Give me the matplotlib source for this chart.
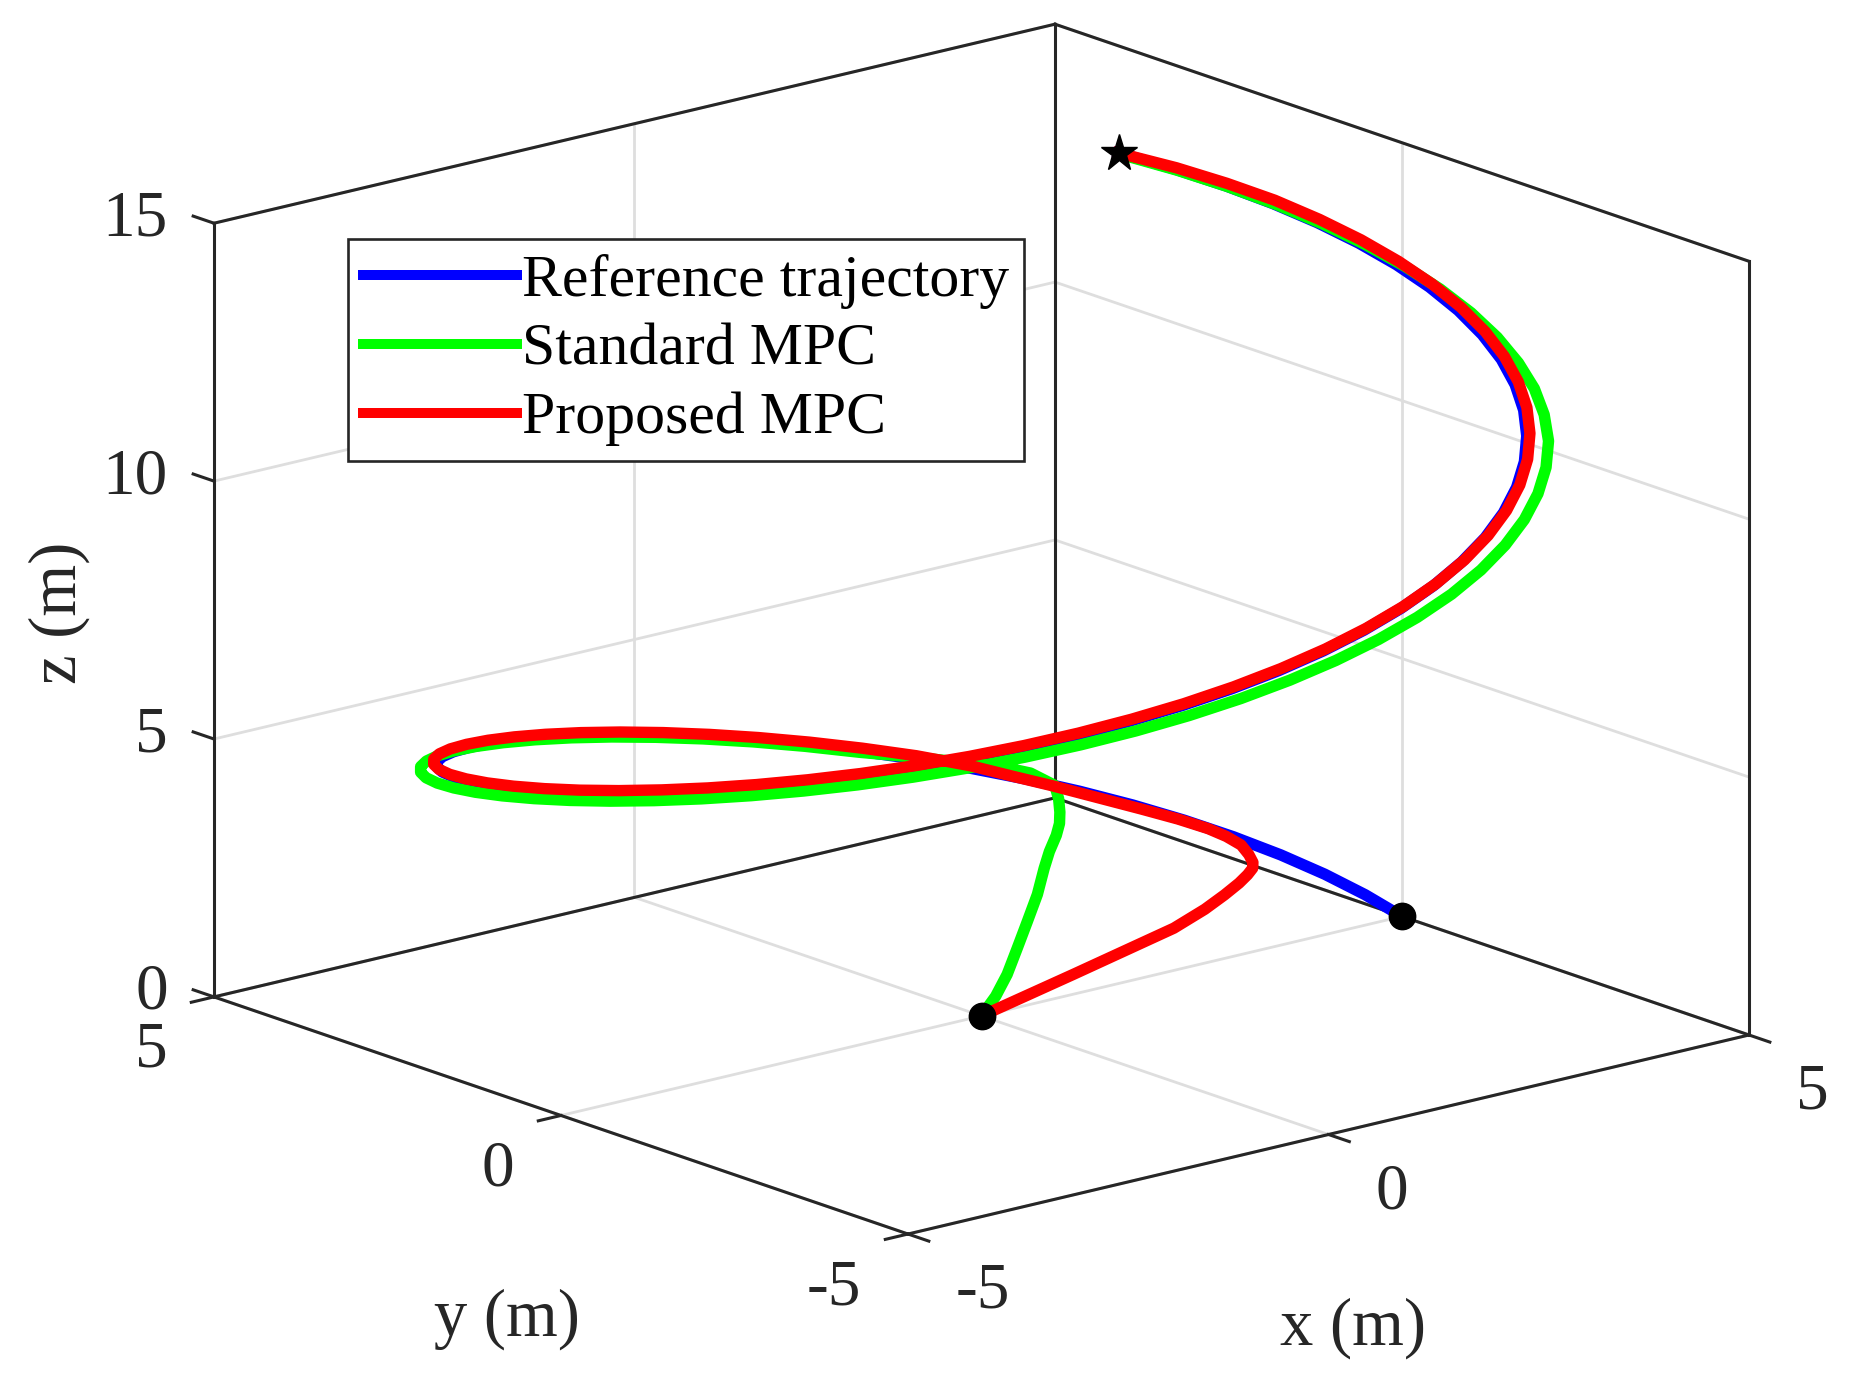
import matplotlib
matplotlib.use("Agg")
import matplotlib.pyplot as plt
from mpl_toolkits.mplot3d import proj3d

plt.rcParams['font.family'] = ['Liberation Serif', 'DejaVu Serif']

# reference helix
ref_x = [5.000, 4.975, 4.901, 4.777, 4.605, 4.388, 4.127, 3.824, 3.484, 3.108,
         2.702, 2.268, 1.812, 1.338, 0.850, 0.354, -0.146, -0.644, -1.136, -1.617,
         -2.081, -2.524, -2.943, -3.332, -3.687, -4.006, -4.285, -4.521, -4.711, -4.855,
         -4.950, -4.996, -4.991, -4.938, -4.834, -4.683, -4.484, -4.241, -3.955, -3.630,
         -3.268, -2.874, -2.452, -2.004, -1.537, -1.054, -0.561, -0.062, 0.438, 0.933,
         1.419, 1.890, 2.343, 2.772, 3.174, 3.544, 3.878, 4.174, 4.428, 4.638,
         4.801, 4.917, 4.983, 5.000, 4.966, 4.883, 4.751, 4.572, 4.347, 4.050]
ref_y = [0.000, 0.499, 0.993, 1.478, 1.947, 2.397, 2.823, 3.221, 3.587, 3.917,
         4.207, 4.456, 4.660, 4.818, 4.927, 4.988, 4.998, 4.959, 4.869, 4.732,
         4.546, 4.316, 4.042, 3.729, 3.378, 2.993, 2.578, 2.137, 1.675, 1.196,
         0.706, 0.208, -0.292, -0.789, -1.278, -1.754, -2.213, -2.649, -3.060, -3.439,
         -3.784, -4.092, -4.358, -4.581, -4.758, -4.888, -4.969, -5.000, -4.981, -4.913,
         -4.795, -4.629, -4.418, -4.162, -3.864, -3.528, -3.157, -2.754, -2.323, -1.870,
         -1.397, -0.911, -0.416, 0.084, 0.583, 1.076, 1.558, 2.024, 2.471, 2.933]
ref_z = [0.0, 0.2, 0.4, 0.6, 0.8, 1.0, 1.2, 1.4, 1.6, 1.8,
         2.0, 2.2, 2.4, 2.6, 2.8, 3.0, 3.2, 3.4, 3.6, 3.8,
         4.0, 4.2, 4.4, 4.6, 4.8, 5.0, 5.2, 5.4, 5.6, 5.8,
         6.0, 6.2, 6.4, 6.6, 6.8, 7.0, 7.2, 7.4, 7.6, 7.8,
         8.0, 8.2, 8.4, 8.6, 8.8, 9.0, 9.2, 9.4, 9.6, 9.8,
         10.0, 10.2, 10.4, 10.6, 10.8, 11.0, 11.2, 11.4, 11.6, 11.8,
         12.0, 12.2, 12.4, 12.6, 12.8, 13.0, 13.2, 13.4, 13.6, 13.82]

# standard MPC (green)
std_x = [0.00, 0.40, 0.80, 1.25, 1.70, 2.15, 2.56, 2.87, 3.20, 3.37, 3.49, 3.64, 3.76, 3.62, 3.40,
         2.783, 2.336, 1.866, 1.378, 0.876, 0.364, -0.150, -0.663, -1.170, -1.665,
         -2.143, -2.600, -3.031, -3.431, -3.798, -4.126, -4.413, -4.656, -4.852, -5.001,
         -5.099, -5.145, -5.141, -5.086, -4.979, -4.823, -4.619, -4.368, -4.074, -3.738,
         -3.366, -2.963, -2.530, -2.070, -1.589, -1.091, -0.581, -0.064, 0.454, 0.969,
         1.475, 1.966, 2.436, 2.883, 3.300, 3.685, 4.033, 4.332, 4.587, 4.791,
         4.945, 5.049, 5.102, 5.104, 5.055, 4.956, 4.808, 4.618, 4.382, 4.066]
std_y = [0.00, 0.28, 0.60, 1.00, 1.40, 1.80, 2.20, 2.50, 2.80, 2.96, 3.10, 3.30, 3.50, 3.68, 3.87,
         4.334, 4.590, 4.800, 4.963, 5.075, 5.137, 5.148, 5.107, 5.015, 4.873,
         4.683, 4.445, 4.164, 3.840, 3.479, 3.082, 2.655, 2.201, 1.725, 1.232,
         0.727, 0.214, -0.301, -0.812, -1.316, -1.807, -2.279, -2.728, -3.151, -3.542,
         -3.898, -4.218, -4.497, -4.732, -4.920, -5.059, -5.147, -5.184, -5.170, -5.104,
         -4.986, -4.814, -4.594, -4.328, -4.019, -3.669, -3.283, -2.858, -2.407, -1.931,
         -1.439, -0.936, -0.425, 0.086, 0.593, 1.092, 1.576, 2.044, 2.490, 2.944]
std_z = [0.00, 0.10, 0.22, 0.37, 0.53, 0.70, 0.86, 0.93, 0.98, 1.07, 1.18, 1.29, 1.41, 1.62, 1.75,
         1.95, 2.10, 2.30, 2.50, 2.70, 2.90, 3.10, 3.30, 3.50, 3.70,
         3.90, 4.10, 4.30, 4.50, 4.70, 4.90, 5.10, 5.30, 5.50, 5.70,
         5.90, 6.10, 6.30, 6.50, 6.70, 6.90, 7.10, 7.30, 7.50, 7.70,
         7.90, 8.10, 8.30, 8.50, 8.70, 8.90, 9.10, 9.30, 9.50, 9.70,
         9.90, 10.10, 10.30, 10.50, 10.70, 10.90, 11.10, 11.30, 11.50, 11.70,
         11.91, 12.115, 12.32, 12.525, 12.73, 12.94, 13.15, 13.355, 13.56, 13.79]

# proposed MPC (red)
prop_x = [0.00, 1.26, 2.70, 3.20, 3.55, 3.83, 4.03, 4.19, 4.30, 4.40, 4.49, 4.52, 4.51, 4.40,
          4.21, 3.68, 3.43, 3.127,
          2.718, 2.282, 1.823, 1.346, 0.855, 0.356, -0.147, -0.648, -1.143, -1.626,
          -2.093, -2.539, -2.960, -3.351, -3.709, -4.030, -4.310, -4.548, -4.739, -4.884,
          -4.980, -5.025, -5.021, -4.967, -4.863, -4.711, -4.511, -4.266, -3.979, -3.651,
          -3.288, -2.891, -2.466, -2.016, -1.546, -1.060, -0.564, -0.062, 0.440, 0.938,
          1.427, 1.901, 2.357, 2.789, 3.193, 3.565, 3.901, 4.199, 4.454, 4.665,
          4.830, 4.946, 5.012, 5.029, 4.996, 4.912, 4.780, 4.595, 4.364, 4.050]
prop_y = [0.00, 0.20, 0.50, 0.66, 0.80, 0.93, 1.05, 1.17, 1.30, 1.48, 1.70, 1.95, 2.20, 2.50,
          2.80, 3.45, 3.70, 3.940,
          4.233, 4.483, 4.688, 4.847, 4.957, 5.017, 5.028, 4.988, 4.898, 4.760,
          4.574, 4.342, 4.067, 3.751, 3.398, 3.010, 2.593, 2.150, 1.685, 1.203,
          0.710, 0.209, -0.294, -0.793, -1.285, -1.765, -2.226, -2.665, -3.078, -3.460,
          -3.807, -4.116, -4.384, -4.608, -4.787, -4.917, -4.998, -5.030, -5.011, -4.942,
          -4.823, -4.657, -4.444, -4.186, -3.887, -3.549, -3.175, -2.770, -2.337, -1.881,
          -1.405, -0.916, -0.418, 0.085, 0.586, 1.082, 1.567, 2.034, 2.480, 2.933]
prop_z = [0.00, 0.23, 0.43, 0.53, 0.61, 0.67, 0.70, 0.71, 0.72, 0.75, 0.80, 0.84, 0.88, 0.97,
          1.10, 1.46, 1.62, 1.83,
          2.05, 2.25, 2.45, 2.65, 2.85, 3.05, 3.25, 3.45, 3.65, 3.85,
          4.05, 4.25, 4.45, 4.65, 4.85, 5.05, 5.25, 5.45, 5.65, 5.85,
          6.05, 6.25, 6.45, 6.65, 6.85, 7.05, 7.25, 7.45, 7.65, 7.85,
          8.05, 8.25, 8.45, 8.65, 8.85, 9.05, 9.25, 9.45, 9.65, 9.85,
          10.05, 10.25, 10.45, 10.65, 10.85, 11.05, 11.25, 11.45, 11.65, 11.85,
          12.05, 12.25, 12.45, 12.65, 12.85, 13.05, 13.25, 13.435, 13.62, 13.82]

start_ref = (5.0, 0.0, 0.0)
start_mpc = (0.0, 0.0, 0.0)
goal = (4.050, 2.933, 13.82)

xticks = [-5, 0, 5]
yticks = [-5, 0, 5]
zticks = [0, 5, 10, 15]
labels = ['Reference trajectory', 'Standard MPC', 'Proposed MPC']

fig = plt.figure(figsize=(18.58, 13.74), dpi=100)
ax = fig.add_axes([0.058412, -0.093210, 0.914962, 1.237263], projection='3d',
                  proj_type='ortho', computed_zorder=False)
ax.set_axis_off()
ax.set_xlim(-5, 5)
ax.set_ylim(-5, 5)
ax.set_zlim(0, 15)
ax.set_box_aspect((1094.2, 1084.9, 807.0), zoom=0.99328)
ax.view_init(elev=16.52, azim=-129.77)


def put_text(x, y, z, s, **kw):
    # place a plain 2D text at the projected 3D point
    px, py, _ = proj3d.proj_transform(x, y, z, ax.get_proj())
    ax.text2D(px, py, s, transform=ax.transData, color='#262626', **kw)


# grid on the three back planes
gkw = dict(color='#dedede', lw=2.0, zorder=1, clip_on=False)
for xv in xticks:
    ax.plot([xv, xv], [-5, 5], [0, 0], **gkw)
    ax.plot([xv, xv], [5, 5], [0, 15], **gkw)
for yv in yticks:
    ax.plot([-5, 5], [yv, yv], [0, 0], **gkw)
    ax.plot([5, 5], [yv, yv], [0, 15], **gkw)
for zv in zticks:
    ax.plot([-5, 5], [5, 5], [zv, zv], **gkw)
    ax.plot([5, 5], [-5, 5], [zv, zv], **gkw)

# box edges (back ones + the two axis lines)
bkw = dict(color='#262626', lw=2.2, zorder=2, clip_on=False, solid_capstyle='projecting')
edges = [((-5, 5, 0), (5, 5, 0)), ((5, 5, 0), (5, -5, 0)),
         ((-5, 5, 0), (-5, -5, 0)), ((-5, -5, 0), (5, -5, 0)),
         ((-5, 5, 0), (-5, 5, 15)), ((5, 5, 0), (5, 5, 15)), ((5, -5, 0), (5, -5, 15)),
         ((-5, 5, 15), (5, 5, 15)), ((5, 5, 15), (5, -5, 15))]
for p, q in edges:
    ax.plot([p[0], q[0]], [p[1], q[1]], [p[2], q[2]], **bkw)

# tick marks and labels
tfs = 47
for xv in xticks:
    ax.plot([xv, xv], [-5, -5.3], [0, 0], **bkw)
    put_text(xv, -5.684, -1.111, str(xv), ha='left', va='baseline', fontsize=tfs)
for yv in yticks:
    ax.plot([-5, -5.27], [yv, yv], [0, 0], **bkw)
    put_text(-5.553, yv, -1.144, str(yv), ha='right', va='baseline', fontsize=tfs)
for zv in zticks:
    ax.plot([-5, -5], [5, 5.3], [zv, zv], **bkw)
    put_text(-5.57, 4.972, zv, str(zv), ha='right', va='baseline', fontsize=tfs)

lfs = 48
put_text(0, -5.347, -3.592, 'x (m)', ha='center', va='center', fontsize=lfs)
put_text(-5.642, 0, -3.697, 'y (m)', ha='center', va='center', fontsize=lfs)
put_text(-6.146, 5.844, 7.5, 'z (m)', ha='center', va='center', rotation=90, fontsize=lfs)

# trajectories
lw = 8.2
l1, = ax.plot(ref_x, ref_y, ref_z, color='#0000ff', lw=lw, zorder=3, clip_on=False,
              solid_joinstyle='round')
l2, = ax.plot(std_x, std_y, std_z, color='#00ff00', lw=lw, zorder=4, clip_on=False,
              solid_joinstyle='round')
l3, = ax.plot(prop_x, prop_y, prop_z, color='#ff0000', lw=lw, zorder=5, clip_on=False,
              solid_joinstyle='round')

for p in (start_ref, start_mpc):
    ax.plot([p[0]], [p[1]], [p[2]], 'o', color='k', ms=19, zorder=6, clip_on=False)
ax.plot([goal[0]], [goal[1]], [goal[2]], '*', color='k', ms=28, zorder=6, clip_on=False)

ax.set_xlim(-5, 5)
ax.set_ylim(-5, 5)
ax.set_zlim(0, 15)

leg = ax.legend([l1, l2, l3], labels, loc='upper left', bbox_to_anchor=(0.1873, 0.8261),
                bbox_transform=fig.transFigure, borderaxespad=0, fontsize=43,
                handlelength=2.58, handletextpad=0.09, labelspacing=0.234, borderpad=0.25,
                fancybox=False, framealpha=1)
leg.get_frame().set_edgecolor('#262626')
leg.get_frame().set_linewidth(1.9)
for hl in leg.get_lines():
    hl.set_linewidth(7.2)

fig.savefig('out.png', dpi=100, facecolor='white')
